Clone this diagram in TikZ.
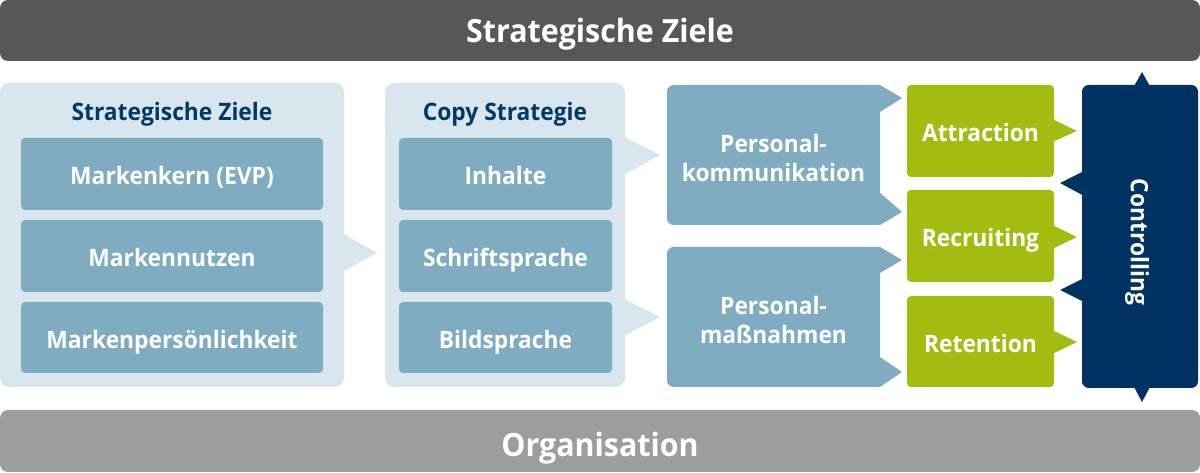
\documentclass[tikz,border=0pt]{standalone}
\usepackage{fontspec}
\setmainfont{Open Sans}[BoldFont={* Bold}, FakeStretch=0.95]
\definecolor{darkbar}{HTML}{575756}
\definecolor{greybar}{HTML}{9D9D9C}
\definecolor{panel}{HTML}{D9E6EE}
\definecolor{innerbox}{HTML}{7FACC1}
\definecolor{navytext}{HTML}{003A66}
\definecolor{navybox}{HTML}{003361}
\definecolor{greenbox}{HTML}{A2BD10}
\tikzset{
  bar/.style={rectangle, rounded corners=6pt, inner sep=0pt, minimum width=900pt},
  bartext/.style={text=white, inner sep=0pt, anchor=base, font=\bfseries\fontsize{24}{28}\selectfont},
  panelbox/.style={rectangle, rounded corners=7pt, fill=panel, inner sep=0pt},
  title/.style={text=navytext, anchor=base, font=\bfseries\fontsize{18}{21}\selectfont, inner sep=0pt},
  lbl/.style={rectangle, rounded corners=3pt, inner sep=0pt, text=white, align=center, font=\bfseries\fontsize{18}{21.75}\selectfont},
  one/.style={text height=15.85pt, text depth=0pt},
  ibox/.style={lbl, one, fill=innerbox},
  pbox/.style={lbl, fill=innerbox, rounded corners=5pt, minimum width=159.75pt, text height=39.8pt, text depth=0pt},
  gbox/.style={lbl, one, fill=greenbox, minimum width=110.25pt, minimum height=69pt},
  pfill/.style={fill=panel},
  ifill/.style={fill=innerbox},
  gfill/.style={fill=greenbox},
  nfill/.style={fill=navybox},
}
\begin{document}
\begin{tikzpicture}[x=0.75pt, y=-0.75pt]
\useasboundingbox (0,0) rectangle (1200,473);
% bars
\node[bar, fill=darkbar, minimum height=45.75pt] (top) at (600,30.5) {};
\node[bartext] (toptext) at (600,43) {Strategische Ziele};
\node[bar, fill=greybar, minimum height=46.5pt] (bottom) at (600,441) {};
\node[bartext] (bottomtext) at (600,456.5) {Organisation};
% left panel
\node[panelbox, minimum width=258pt, minimum height=228pt] (p1) at (172,235) {};
\fill[pfill] (340,232) -- (377,253) -- (340,273) -- cycle;
\node[title] (t1) at (172,121) {Strategische Ziele};
\node[ibox, minimum width=226.5pt, minimum height=54pt] (a1) at (172,174) {Markenkern (EVP)};
\node[ibox, minimum width=226.5pt, minimum height=54pt] (a2) at (172,256) {Markennutzen};
\node[ibox, minimum width=226.5pt, minimum height=53.25pt] (a3) at (172,337.5) {Markenpersönlichkeit};
% middle panel
\node[panelbox, minimum width=180pt, minimum height=228pt] (p2) at (505,235) {};
\fill[pfill] (620,135) -- (660,155) -- (620,177) -- cycle;
\fill[pfill] (620,297) -- (660,317) -- (620,338) -- cycle;
\node[title] (t2) at (505,121) {Copy Strategie};
\node[ibox, minimum width=159.75pt, minimum height=54pt] (b1) at (505.5,174) {Inhalte};
\node[ibox, minimum width=159.75pt, minimum height=54pt] (b2) at (505.5,256) {Schriftsprache};
\node[ibox, minimum width=159.75pt, minimum height=53.25pt] (b3) at (505.5,337.5) {Bildsprache};
% personal boxes
\fill[ifill] (870,85) -- (880,85) -- (902,98) -- (880,112) -- (870,112) -- cycle;
\fill[ifill] (870,193) -- (880,193) -- (902,212) -- (880,225) -- (870,225) -- cycle;
\fill[ifill] (870,247) -- (880,247) -- (902,260) -- (880,273) -- (870,273) -- cycle;
\fill[ifill] (870,357) -- (880,357) -- (902,372) -- (880,387) -- (870,387) -- cycle;
\node[pbox, minimum height=105pt] (c1) at (773.5,155) {Personal-\\kommunikation};
\node[pbox, minimum height=105pt] (c2) at (773.5,317) {Personal-\\maßnahmen};
% green boxes
\fill[gfill] (1050,118) -- (1077,131) -- (1050,143) -- cycle;
\fill[gfill] (1050,224) -- (1077,237) -- (1050,250) -- cycle;
\fill[gfill] (1050,329) -- (1077,342) -- (1050,355) -- cycle;
\node[gbox] (g1) at (980.5,131) {Attraction};
\node[gbox] (g2) at (980.5,236) {Recruiting};
\node[gbox, minimum height=68.25pt] (g3) at (980.5,341.5) {Retention};
% controlling
\fill[nfill] (1133,88) -- (1142,72) -- (1151,88) -- cycle;
\fill[nfill] (1133,385) -- (1142,402) -- (1151,385) -- cycle;
\fill[nfill] (1086,170) -- (1060,183) -- (1086,197) -- cycle;
\fill[nfill] (1086,277) -- (1060,290) -- (1086,303) -- cycle;
\node[lbl, rounded corners=5pt, fill=navybox, minimum width=87pt, minimum height=227.25pt] (ctl) at (1140,236.5) {};
\node[lbl, rotate=-90] (ctltext) at (1137,242) {Controlling};
\end{tikzpicture}
\end{document}
